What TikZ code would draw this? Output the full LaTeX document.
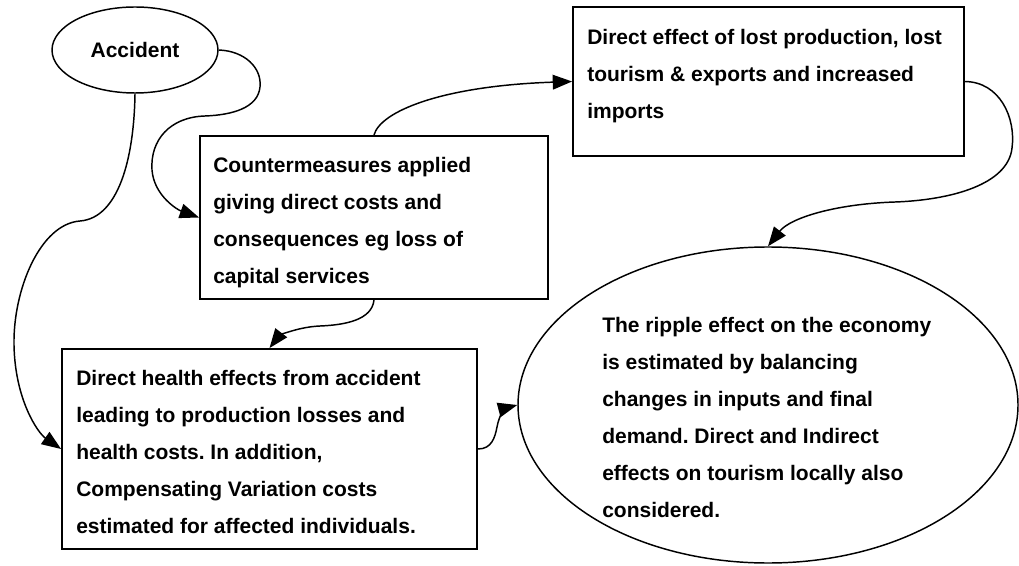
\documentclass[tikz,border=0pt]{standalone}
\usepackage{fontspec}
\setmainfont{Liberation Sans}
\usetikzlibrary{arrows.meta,shapes.geometric}
\frenchspacing
\begin{document}
\begin{tikzpicture}[x=0.75pt,y=-0.75pt,
  boxshape/.style={draw,line width=1.4pt,rectangle,inner sep=0pt},
  ovalshape/.style={draw,line width=1.1pt,ellipse,inner sep=0pt},
  para/.style={anchor=north west,inner sep=0pt,align=left,
    font=\fontsize{15.75pt}{27.75pt}\selectfont\bfseries},
  link/.style={line width=1.1pt,-{Triangle[length=14.5pt,width=11pt]}}]
\useasboundingbox (0,0) rectangle (1019,566);

% shapes
\node[ovalshape,minimum width=124.5pt,minimum height=64.5pt,
  font=\fontsize{15.75pt}{18pt}\selectfont\bfseries] (acc) at (135,50) {Accident};
\node[boxshape,minimum width=261pt,minimum height=122.25pt] (cm) at (374,217.5) {};
\node[boxshape,minimum width=293.25pt,minimum height=111.75pt] (de) at (768.5,81.5) {};
\node[boxshape,minimum width=311.25pt,minimum height=150pt] (lo) at (269.5,449) {};
\node[ovalshape,minimum width=375pt,minimum height=237pt] (rip) at (768,405) {};

% texts
\node[para] (cmtext) at (213,146.6) {\strut Countermeasures applied\\giving direct costs and\\consequences eg loss of\\capital services};
\node[para] (detext) at (587,18.1) {\strut Direct effect of lost production, lost\\tourism \& exports and increased\\imports};
\node[para] (lotext) at (76,359.1) {\strut Direct health effects from accident\\leading to production losses and\\health costs. In addition,\\Compensating Variation costs\\estimated for affected individuals.};
\node[para] (riptext) at (602,306.1) {\strut The ripple effect on the economy\\is estimated by balancing\\changes in inputs and final\\demand. Direct and Indirect\\effects on tourism locally also\\considered.};

% connectors
\draw[link] (acc.east) .. controls (245,51) and (262,68) .. (260,87)
  .. controls (258,108) and (232,115) .. (205,116)
  .. controls (170,117) and (150,140) .. (152,170)
  .. controls (154,196) and (178,210) .. (cm.west);
\draw[link] (acc.south) .. controls (134,160) and (118,218) .. (80,221)
  .. controls (40,224) and (13,290) .. (14,345)
  .. controls (15,400) and (38,433) .. (lo.west);
\draw[link] (cm.north) .. controls (380,112) and (440,86) .. (de.west);
\draw[link] (de.east) .. controls (1000,82) and (1016,118) .. (1012,148)
  .. controls (1008,185) and (950,200) .. (895,202)
  .. controls (835,204) and (790,218) .. (rip.north);
\draw[link] (cm.south) .. controls (372,320) and (345,325) .. (320,326)
  .. controls (296,327) and (278,337) .. (lo.north);
\draw[link] (lo.east) .. controls (492,449) and (495,437) .. (497,427)
  .. controls (499,415) and (506,408) .. (rip.west);
\end{tikzpicture}
\end{document}
